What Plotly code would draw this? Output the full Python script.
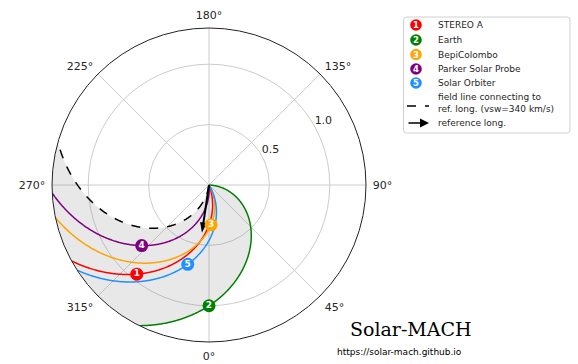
import numpy as np
import plotly.graph_objects as go

# ---------------- data ----------------
bodies = ["STEREO A", "Earth", "BepiColombo", "Parker Solar Probe", "Solar Orbiter"]
numbers = ["1", "2", "3", "4", "5"]
colors = ["#ff0000", "#008000", "#ffa500", "#800080", "#1e90ff"]
body_r = [0.95, 1.0, 0.33, 0.75, 0.68]          # AU
body_lon = [321.0, 0.0, 3.0, 312.0, 345.0]      # deg
body_vsw = [404.0, 290.0, 305.0, 359.0, 375.0]  # km/s
ref_long = 351.6
ref_vsw = 340.0
r_max = 1.3
theta_ticks = [0, 45, 90, 135, 180, 225, 270, 315]
theta_labels = [f"{t}°" for t in theta_ticks]
r_ticks = [0.5, 1.0]
r_labels = ["0.5", "1.0"]

# solar rotation (deg/day) and AU (km) for Parker spiral
OMEGA_DEG_DAY = 14.713
AU_KM = 1.496e8


def spiral_k(vsw):
    return OMEGA_DEG_DAY / 86400.0 * AU_KM / vsw  # deg per AU


rr = np.linspace(0.0, r_max, 300)


def field_line(r0, lon0, vsw):
    return lon0 + spiral_k(vsw) * (r0 - rr)


ref_line = ref_long - spiral_k(ref_vsw) * rr

fig = go.Figure()

# shaded sector between Earth field line and reference field line
earth_line = field_line(body_r[1], body_lon[1], body_vsw[1])
t1 = earth_line[-1]
t2 = ref_line[-1]
t2u = t1 - ((t1 - t2) % 360)
arc = np.linspace(t1, t2u, 120)
shift = t2u - t2
fill_r = np.concatenate([rr, np.full(arc.size, r_max), rr[::-1]])
fill_t = np.concatenate([earth_line, arc, ref_line[::-1] + shift])
fig.add_trace(go.Scatterpolar(r=fill_r, theta=fill_t, mode="lines", fill="toself",
                              fillcolor="rgba(128,128,128,0.18)", line=dict(width=0),
                              hoverinfo="skip", showlegend=False))

# field lines
for i in range(len(bodies)):
    fig.add_trace(go.Scatterpolar(r=rr, theta=field_line(body_r[i], body_lon[i], body_vsw[i]),
                                  mode="lines", line=dict(color=colors[i], width=1.5),
                                  showlegend=False, hoverinfo="skip"))

# reference field line
fig.add_trace(go.Scatterpolar(r=rr, theta=ref_line, mode="lines",
                              line=dict(color="black", width=1.5, dash="dash"),
                              showlegend=False, hoverinfo="skip"))

# reference long arrow
arrow_len = 0.40
fig.add_trace(go.Scatterpolar(r=[0, arrow_len * 0.85], theta=[ref_long, ref_long], mode="lines",
                              line=dict(color="black", width=2), showlegend=False, hoverinfo="skip"))
fig.add_trace(go.Scatterpolar(r=[arrow_len], theta=[ref_long], mode="markers",
                              marker=dict(symbol="arrow", size=11, color="black",
                                          angle=180 - ref_long),
                              showlegend=False, hoverinfo="skip"))

# body markers
fig.add_trace(go.Scatterpolar(r=body_r, theta=body_lon, mode="markers+text",
                              marker=dict(size=13, color=colors, line=dict(width=0)),
                              text=numbers, textposition="middle center",
                              textfont=dict(color="white", size=9, family="DejaVu Sans", weight="bold"),
                              showlegend=False, hoverinfo="skip"))

# radial tick labels (matplotlib-like placement along ~29 deg screen direction)
RLABEL_THETA = 119
fig.add_trace(go.Scatterpolar(r=r_ticks, theta=[RLABEL_THETA] * len(r_ticks), mode="text",
                              text=r_labels, textposition="top right",
                              textfont=dict(size=11, color="#262626", family="DejaVu Sans"),
                              cliponaxis=False, showlegend=False, hoverinfo="skip"))

W, H = 578, 364
cx, cy, R = 209, 185, 157
L, T = cx - R, cy - R
S = 2 * R

fig.update_layout(
    width=W, height=H,
    margin=dict(l=L, r=W - (cx + R), t=T, b=H - (cy + R)),
    paper_bgcolor="white",
    font=dict(family="DejaVu Sans", color="#262626"),
    showlegend=False,
    polar=dict(
        domain=dict(x=[0, 1], y=[0, 1]),
        bgcolor="white",
        angularaxis=dict(rotation=270, direction="counterclockwise",
                         tickmode="array", tickvals=theta_ticks, ticktext=theta_labels,
                         tickfont=dict(size=11, color="#262626"),
                         showgrid=True, gridcolor="#cccccc", gridwidth=1,
                         showline=True, linecolor="#222222", linewidth=1,
                         ticks="outside", ticklen=4, tickcolor="rgba(0,0,0,0)"),
        radialaxis=dict(range=[0, r_max], tickmode="array", tickvals=r_ticks,
                        showticklabels=False, showline=False, ticks="",
                        showgrid=True, gridcolor="#cccccc", gridwidth=1),
    ),
)

# ---------------- legend (manual) ----------------
shapes = []
annotations = []


def px(x):
    return (x - L) / S


def py(y):
    return 1 - (y - T) / S


def rounded_rect(x0, y0, x1, y1, rc):
    # pixel coords -> paper path with rounded corners (plot area is square, so units are isotropic)
    X0, X1, Y0, Y1 = px(x0), px(x1), py(y1), py(y0)
    c = rc / S
    return (f"M {X0 + c},{Y0} L {X1 - c},{Y0} Q {X1},{Y0} {X1},{Y0 + c} "
            f"L {X1},{Y1 - c} Q {X1},{Y1} {X1 - c},{Y1} L {X0 + c},{Y1} Q {X0},{Y1} {X0},{Y1 - c} "
            f"L {X0},{Y0 + c} Q {X0},{Y0} {X0 + c},{Y0} Z")


shapes.append(dict(type="path", xref="paper", yref="paper", path=rounded_rect(403.5, 17, 570, 133, 3),
                   line=dict(color="#d0d0d0", width=1), fillcolor="rgba(255,255,255,0.8)", layer="above"))
leg_y = [25, 40, 54.5, 69, 83]
rad = 5.8
for i, b in enumerate(bodies):
    y = leg_y[i]
    shapes.append(dict(type="circle", xref="paper", yref="paper", x0=px(416 - rad), x1=px(416 + rad),
                       y0=py(y + rad), y1=py(y - rad), fillcolor=colors[i], line=dict(width=0),
                       layer="above"))
    annotations.append(dict(x=px(416), y=py(y), xref="paper", yref="paper", text=f"<b>{numbers[i]}</b>",
                            showarrow=False, font=dict(color="white", size=8.5, family="DejaVu Sans"),
                            xanchor="center", yanchor="middle"))
    annotations.append(dict(x=px(436), y=py(y), xref="paper", yref="paper", text=b, showarrow=False,
                            font=dict(size=9, color="#262626"), xanchor="left", yanchor="middle"))

shapes.append(dict(type="line", xref="paper", yref="paper", x0=px(407), x1=px(429), y0=py(106), y1=py(106),
                   line=dict(color="black", width=1.5, dash="dash"), layer="above"))
annotations.append(dict(x=px(436), y=py(102.5), xref="paper", yref="paper",
                        text="field line connecting to<br>ref. long. (vsw=340 km/s)", showarrow=False,
                        align="left", font=dict(size=9, color="#262626"), xanchor="left", yanchor="middle"))
annotations.append(dict(x=px(429), y=py(123), ax=-22, ay=0, xref="paper", yref="paper",
                        axref="pixel", ayref="pixel", text="", showarrow=True, arrowhead=2,
                        arrowsize=1.2, arrowwidth=1.5, arrowcolor="black"))
annotations.append(dict(x=px(436), y=py(123), xref="paper", yref="paper", text="reference long.",
                        showarrow=False, font=dict(size=9, color="#262626"), xanchor="left",
                        yanchor="middle"))

# branding
annotations.append(dict(x=px(411), y=py(329), xref="paper", yref="paper", text="Solar-MACH",
                        showarrow=False, font=dict(size=19, family="DejaVu Serif", color="black"),
                        xanchor="center", yanchor="middle"))
annotations.append(dict(x=px(399), y=py(352), xref="paper", yref="paper", text="https://solar-mach.github.io",
                        showarrow=False, font=dict(size=9, family="DejaVu Sans", color="black"),
                        xanchor="center", yanchor="middle"))

fig.update_layout(shapes=shapes, annotations=annotations)
fig.write_html("out.html", config={"displayModeBar": False},
               post_script="document.body.style.margin='0';document.body.style.padding='0';")
